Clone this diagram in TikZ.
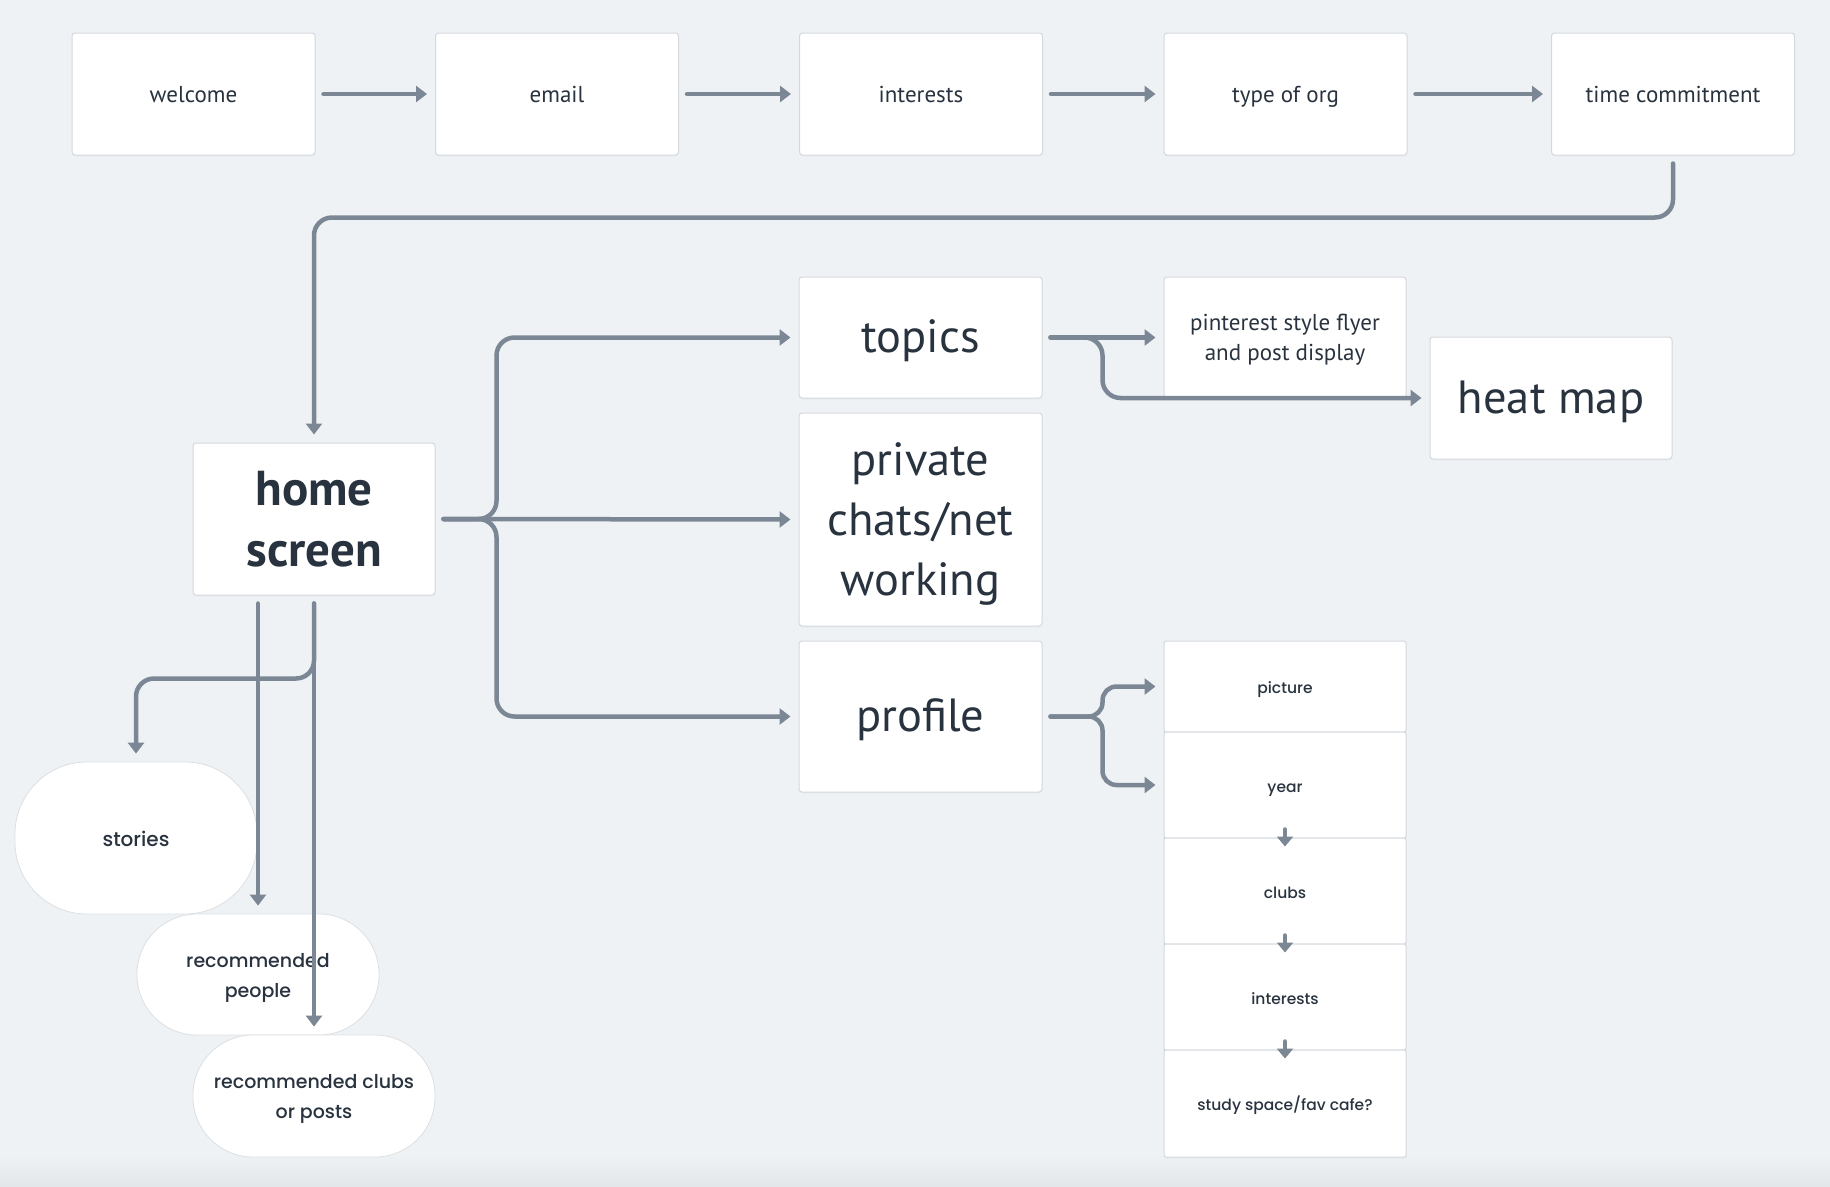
\documentclass[tikz,border=0pt]{standalone}
\usepackage{fontspec}
\setmainfont{PT Sans}
\newfontfamily\roundfont{Poppins Medium}
\usetikzlibrary{arrows.meta,calc,shadows}
\definecolor{bg}{HTML}{EFF2F5}
\definecolor{bgdark}{HTML}{E4E7EA}
\definecolor{wire}{HTML}{7B8794}
\definecolor{ink}{HTML}{29333F}
\definecolor{edge}{HTML}{D4D8DD}
\definecolor{pilledge}{HTML}{DDE0E3}

\begin{document}
\begin{tikzpicture}[x=1pt,y=-1pt,
  card/.style={draw=edge, line width=1pt, fill=white, rounded corners=3pt,
    text=ink, align=center, inner sep=0pt,
    drop shadow={shadow xshift=0pt, shadow yshift=-1.5pt, opacity=0.05}},
  stepcard/.style={card, minimum width=243pt, minimum height=122pt,
    font=\fontsize{23}{29}\selectfont, text height=17pt, text depth=1pt},
  bigcard/.style={card, minimum width=243pt,
    font=\fontsize{46.5}{60}\selectfont, text height=36pt, text depth=6pt},
  subcard/.style={card, rounded corners=2pt, minimum width=242pt,
    font=\roundfont\fontsize{15.5}{22}\selectfont, text height=14pt, text depth=0pt},
  pill/.style={draw=pilledge, line width=0.8pt, fill=white, text=ink,
    align=center, inner sep=0pt, minimum width=242pt,
    font=\roundfont\fontsize{19}{30}\selectfont, text height=45pt, text depth=0pt},
  conn/.style={draw=wire, line width=4.5pt, line cap=round,
    -{Triangle[length=11pt,width=16pt]}, shorten <=8pt, shorten >=8pt},
  tinyconn/.style={draw=wire, line width=4.5pt, line cap=round,
    -{Triangle[length=10pt,width=16pt]}}
]
\useasboundingbox (0,0) rectangle (1830,1186);
\fill[bg] (0,0) rectangle (1830,1186);
\shade[top color=bg, bottom color=bgdark] (0,1155) rectangle (1830,1186);

% sign-up sequence
\node[stepcard] (welcome)   at (193.5,94) {welcome};
\node[stepcard] (email)     at (557,94)   {email};
\node[stepcard] (interests) at (921,94)   {interests};
\node[stepcard] (typeorg)   at (1285.5,94){type of org};
\node[stepcard] (timec)     at (1673,94)  {time commitment};

% home and its sections
\node[card, minimum width=242pt, minimum height=152pt,
      font=\bfseries\fontsize{49}{61}\selectfont] (home) at (314,519) {home\\screen};
\node[bigcard, minimum height=121pt] (topics)  at (920.5,337.5) {topics};
\node[bigcard, minimum height=213pt, text height=157pt] (private) at (920.5,519.5)
      {private\\chats/net\\working};
\node[bigcard, minimum height=151pt] (profile) at (920.5,716.5) {profile};

\node[card, minimum width=242pt, minimum height=121pt,
      font=\fontsize{23}{30}\selectfont, text height=47pt, text depth=2pt]
      (pinterest) at (1285,337.5) {pinterest style flyer\\and post display};
\node[bigcard, minimum width=242pt, minimum height=122pt] (heat) at (1551,398) {heat map};

% profile fields
\node[subcard, minimum height=91pt]  (picture) at (1285,686.5) {picture};
\node[subcard, minimum height=106pt] (year)    at (1285,785)   {year};
\node[subcard, minimum height=106pt] (clubs)   at (1285,891)   {clubs};
\node[subcard, minimum height=106pt] (pinterests) at (1285,997) {interests};
\node[subcard, minimum height=107pt] (study)   at (1285,1103.5) {study space/fav cafe?};

% home feed items
\node[pill, minimum height=152pt, rounded corners=72pt,
      font=\roundfont\fontsize{20}{30}\selectfont, text height=17.5pt]
      (stories) at (136,838) {stories};
\node[pill, minimum height=121pt, rounded corners=60pt] (recp) at (258,974.5) {recommended\\people};
\node[pill, minimum height=122pt, rounded corners=60pt] (recc) at (314,1096) {recommended clubs\\or posts};

% connectors
\draw[conn] (welcome) -- (email);
\draw[conn] (email) -- (interests);
\draw[conn] (interests) -- (typeorg);
\draw[conn] (typeorg) -- (timec);
\draw[conn, rounded corners=18pt] (timec.south) -- ++(0,62) -| (home.north);

\draw[conn, rounded corners=18pt] (home.east) -- ++(61,0) |- (topics.west);
\draw[conn] (home.east) -- (private.west);
\draw[conn, rounded corners=18pt] (home.east) -- ++(61,0) |- (profile.west);

\draw[conn] (topics.east) -- (pinterest.west);
\draw[conn, rounded corners=18pt] (topics.east) -- ++(60,0) |- (heat.west);

\draw[conn, rounded corners=14pt] (profile.east) -- ++(60,0) |- (picture.west);
\draw[conn, rounded corners=14pt] (profile.east) -- ++(60,0) |- (year.west);

\draw[tinyconn] ($(year.south)+(0,-9)$) -- ($(clubs.north)+(0,9)$);
\draw[tinyconn] ($(clubs.south)+(0,-9)$) -- ($(pinterests.north)+(0,9)$);
\draw[tinyconn] ($(pinterests.south)+(0,-9)$) -- ($(study.north)+(0,9)$);

\draw[conn, rounded corners=18pt] (home.south) -- ++(0,83) -| (stories.north);
\draw[conn] (home.south -| recp.north) -- (recp.north);
\draw[conn] (home.south) -- (recc.north);
\end{tikzpicture}
\end{document}
